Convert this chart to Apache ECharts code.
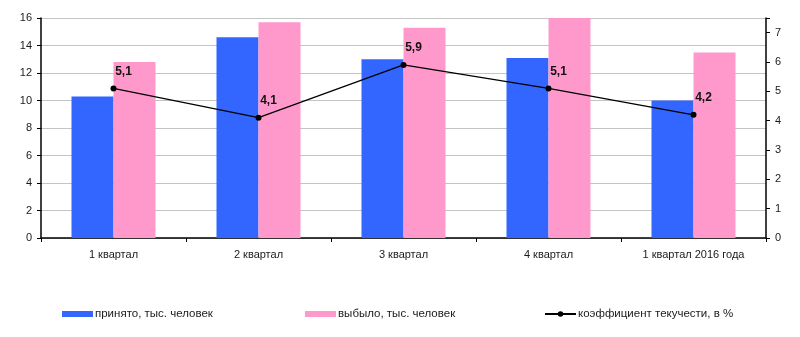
<!DOCTYPE html>
<html>
<head>
<meta charset="utf-8">
<script src="https://cdn.jsdelivr.net/npm/echarts@6/dist/echarts.min.js"></script>
<style>
html,body{margin:0;padding:0;background:#fff;}
#chart{width:800px;height:337px;}
</style>
</head>
<body>
<div id="chart"></div>
<script>
// Quarterly staff movement
var categories = ['1 квартал', '2 квартал', '3 квартал', '4 квартал', '1 квартал 2016 года'];
var hired = [10.3, 14.6, 13.0, 13.1, 10.0];        // принято, тыс. человек
var left = [12.8, 15.7, 15.3, 16.0, 13.5];         // выбыло, тыс. человек
var turnover = [5.1, 4.1, 5.9, 5.1, 4.2];          // коэффициент текучести, %
var seriesNames = ['принято, тыс. человек', 'выбыло, тыс. человек', 'коэффициент текучести, в %'];

var font = 'Liberation Sans, Arial, sans-serif';
var textColor = '#1a1a1a';

var chart = echarts.init(document.getElementById('chart'), null, {renderer: 'canvas'});

function legendAt(x, name, icon) {
  var lg = {
    left: x, top: 303,
    itemWidth: 31, itemHeight: 6, itemGap: 0,
    textStyle: {fontFamily: font, fontSize: 11.5, color: textColor, padding: [0, 0, 0, -3]},
    data: [icon ? {name: name, icon: icon} : name],
    selectedMode: false
  };
  return lg;
}

chart.setOption({
  animation: false,
  backgroundColor: '#fff',
  grid: {left: 41, right: 34, top: 18, bottom: 99},
  legend: [
    legendAt(57, seriesNames[0], 'rect'),
    legendAt(300, seriesNames[1], 'rect'),
    Object.assign(legendAt(539, seriesNames[2]), {itemHeight: 7})
  ],
  xAxis: {
    type: 'category',
    data: categories,
    axisLine: {lineStyle: {color: '#000', width: 1.5}},
    axisTick: {show: true, length: 4, lineStyle: {color: '#000'}},
    axisLabel: {fontFamily: font, fontSize: 11, color: textColor, margin: 11}
  },
  yAxis: [
    {
      type: 'value', min: 0, max: 16, interval: 2,
      axisLine: {show: true, lineStyle: {color: '#000', width: 1.5}},
      axisTick: {show: true, length: 4, lineStyle: {color: '#000'}},
      axisLabel: {fontFamily: font, fontSize: 11, color: textColor, margin: 9},
      splitLine: {lineStyle: {color: '#c4c4c4', width: 1}}
    },
    {
      type: 'value', min: 0, max: 7.5, interval: 1,
      position: 'right',
      axisLine: {show: true, lineStyle: {color: '#000', width: 1.5}},
      axisTick: {show: true, length: 4, lineStyle: {color: '#000'}},
      axisLabel: {fontFamily: font, fontSize: 11, color: textColor, margin: 9,
        formatter: function (v) { return v > 7 ? '' : v; }},
      splitLine: {show: false}
    }
  ],
  series: [
    {
      name: seriesNames[0], type: 'bar', data: hired,
      barWidth: 42, barGap: '0%',
      itemStyle: {color: '#3366ff'}
    },
    {
      name: seriesNames[1], type: 'bar', data: left,
      barWidth: 42,
      itemStyle: {color: '#ff99cc'}
    },
    {
      name: seriesNames[2], type: 'line', yAxisIndex: 1, data: turnover,
      symbol: 'circle', symbolSize: 6, z: 5,
      lineStyle: {color: '#000', width: 1.3},
      itemStyle: {color: '#000'},
      label: {
        show: true, position: 'top', offset: [10, -3],
        fontFamily: font, fontSize: 12, fontWeight: 'bold', color: '#111',
        formatter: function (p) { return String(p.value).replace('.', ','); }
      }
    }
  ]
});
</script>
</body>
</html>
